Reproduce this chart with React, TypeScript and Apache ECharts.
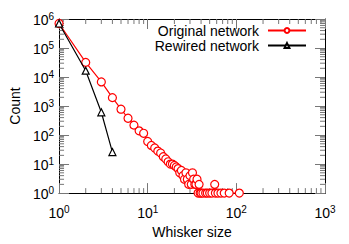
import React, { useEffect, useRef } from "react";
import * as echarts from "echarts";

const originalX = [1,2,3,4,5,6,7,8,9,10,11,12,13,14,15,16,17,18,19,20,21,22,23,24,25,26,27,28,29,30,31,32,33,34,35,36,37,38,39,40,42,45,47,50,53,57,58,62,67,73,83,108];
const originalY = [700000,32000,6800,1950,780,380,220,140,115,60,44,36,28,24,18,15,12,10,10,9,8,7,5,6,4,3,5,3,2,4,2,5,3,2,2,3,1,2,1,1,1,1,1,1,1,2,1,1,1,1,1,1];
const rewiredX = [1,2,3,4];
const rewiredY = [700000,16500,610,26];
const xMinorTicks = [2,3,4,5,6,7,8,9,20,30,40,50,60,70,80,90,200,300,400,500,600,700,800,900];
const yMinorTicks = [2,3,4,5,6,7,8,9,20,30,40,50,60,70,80,90,200,300,400,500,600,700,800,900,2000,3000,4000,5000,6000,7000,8000,9000,20000,30000,40000,50000,60000,70000,80000,90000,200000,300000,400000,500000,600000,700000,800000,900000];
const xRange = [1, 1000];
const yRange = [1, 1000000];

const FONT = "Liberation Sans";
const supFormatter = (v: number) => `{b|10}{s|${Math.round(Math.log10(v))}}`;
const richLabel = {
  b: { fontSize: 14, fontFamily: FONT, color: "#000", lineHeight: 16, verticalAlign: "bottom" },
  s: { fontSize: 10, fontFamily: FONT, color: "#000", lineHeight: 10, verticalAlign: "top" },
};

const legendBase = {
  orient: "vertical",
  right: 42,
  padding: 0,
  align: "right",
  itemWidth: 38,
  itemHeight: 6,
  itemGap: 0,
  textStyle: { fontSize: 14, fontFamily: FONT, color: "#000", padding: [0, 4, 0, 0], lineHeight: 15 },
};

export default function App() {
  const ref = useRef<HTMLDivElement>(null);
  useEffect(() => {
    if (!ref.current) return;
    const chart = echarts.init(ref.current, null, { renderer: "svg" });
    const minorLen = 5;
    chart.setOption({
      animation: false,
      backgroundColor: "#fff",
      grid: { left: 56, right: 24, top: 19, bottom: 44 },
      legend: [
        { ...legendBase, top: 23, data: ["Original network"] },
        { ...legendBase, top: 38, data: ["Rewired network"] },
      ],
      xAxis: [
        {
          type: "log",
          logBase: 10,
          min: xRange[0],
          max: xRange[1],
          name: "Whisker size",
          nameLocation: "middle",
          nameGap: 31,
          nameTextStyle: { fontSize: 14, fontFamily: FONT, color: "#000" },
          axisLine: { lineStyle: { color: "#000", width: 1 } },
          axisTick: { inside: true, length: 10, lineStyle: { color: "#777" } },
          axisLabel: { formatter: supFormatter, rich: richLabel, margin: 11 },
          splitLine: { show: false },
        },
        {
          type: "log",
          logBase: 10,
          min: xRange[0],
          max: xRange[1],
          position: "top",
          axisLine: { lineStyle: { color: "#000", width: 1 } },
          axisTick: { inside: true, length: 10, lineStyle: { color: "#777" } },
          axisLabel: { show: false },
          splitLine: { show: false },
        },
      ],
      yAxis: [
        {
          type: "log",
          logBase: 10,
          min: yRange[0],
          max: yRange[1],
          name: "Count",
          nameLocation: "middle",
          nameGap: 29,
          nameTextStyle: { fontSize: 14, fontFamily: FONT, color: "#000" },
          axisLine: { show: true, lineStyle: { color: "#000", width: 1 } },
          axisTick: { show: true, inside: true, length: 10, lineStyle: { color: "#777" } },
          axisLabel: { formatter: supFormatter, rich: richLabel, margin: 5 },
          splitLine: { show: false },
        },
        {
          type: "log",
          logBase: 10,
          min: yRange[0],
          max: yRange[1],
          position: "right",
          axisLine: { show: true, lineStyle: { color: "#000", width: 1 } },
          axisTick: { show: true, inside: true, length: 10, lineStyle: { color: "#777" } },
          axisLabel: { show: false },
          splitLine: { show: false },
        },
      ],
      series: [
        {
          type: "custom",
          silent: true,
          xAxisIndex: 0,
          yAxisIndex: 0,
          data: xMinorTicks.map((v) => [v]),
          renderItem: (params: any, api: any) => {
            const v = api.value(0);
            const b = api.coord([v, yRange[0]]);
            const t = api.coord([v, yRange[1]]);
            return {
              type: "group",
              children: [
                { type: "line", shape: { x1: b[0], y1: b[1], x2: b[0], y2: b[1] - minorLen }, style: { stroke: "#777", lineWidth: 1 } },
                { type: "line", shape: { x1: t[0], y1: t[1], x2: t[0], y2: t[1] + minorLen }, style: { stroke: "#777", lineWidth: 1 } },
              ],
            };
          },
        },
        {
          type: "custom",
          silent: true,
          xAxisIndex: 0,
          yAxisIndex: 0,
          data: yMinorTicks.map((v) => [1, v]),
          renderItem: (params: any, api: any) => {
            const v = api.value(1);
            const l = api.coord([xRange[0], v]);
            const r = api.coord([xRange[1], v]);
            return {
              type: "group",
              children: [
                { type: "line", shape: { x1: l[0], y1: l[1], x2: l[0] + minorLen, y2: l[1] }, style: { stroke: "#777", lineWidth: 1 } },
                { type: "line", shape: { x1: r[0], y1: r[1], x2: r[0] - minorLen, y2: r[1] }, style: { stroke: "#777", lineWidth: 1 } },
              ],
            };
          },
        },
        {
          name: "Original network",
          type: "line",
          xAxisIndex: 0,
          yAxisIndex: 0,
          data: originalX.map((x, i) => [x, originalY[i]]),
          symbol: "circle",
          symbolSize: 8,
          showAllSymbol: true,
          color: "#ff0000",
          lineStyle: { color: "#ff0000", width: 1.2 },
          itemStyle: { color: "#fff", borderColor: "#ff0000", borderWidth: 1.2, opacity: 1 },
          z: 3,
        },
        {
          name: "Rewired network",
          type: "line",
          xAxisIndex: 0,
          yAxisIndex: 0,
          data: rewiredX.map((x, i) => [x, rewiredY[i]]),
          symbol: "triangle",
          symbolSize: 7,
          showAllSymbol: true,
          color: "#000",
          lineStyle: { color: "#000", width: 1.2 },
          itemStyle: { color: "#fff", borderColor: "#000", borderWidth: 1.2 },
          z: 4,
        },
      ],
    });
    return () => chart.dispose();
  }, []);
  return (
    <div
      ref={ref}
      style={{ position: "fixed", left: 0, top: 0, width: 349, height: 244, background: "#fff" }}
    />
  );
}
